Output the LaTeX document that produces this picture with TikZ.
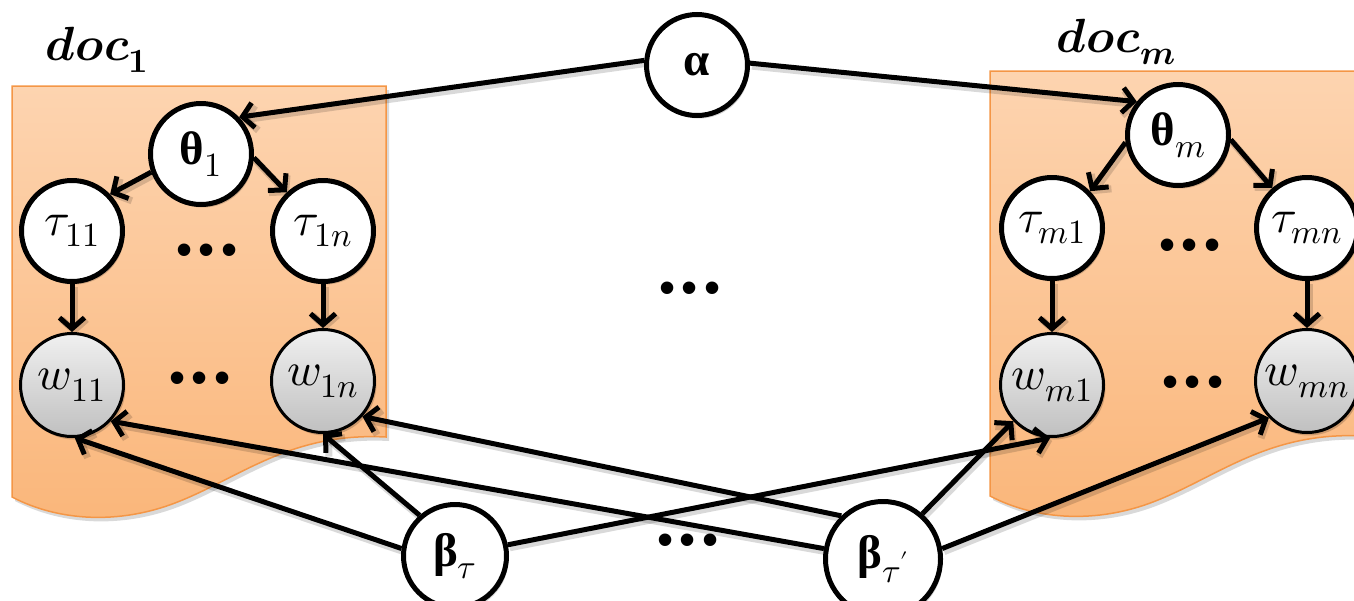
\documentclass[tikz,border=0pt]{standalone}
\usepackage{fontspec}
\usepackage{unicode-math}
\setmathfont{Latin Modern Math}
\newfontfamily\grk{Liberation Serif}
\newfontfamily\dotfont{Liberation Sans}
\usetikzlibrary{arrows.meta,shadows}
\definecolor{doctop}{RGB}{253,212,176}
\definecolor{docbot}{RGB}{250,182,122}
\definecolor{docedge}{RGB}{244,150,70}
\definecolor{obstop}{RGB}{240,240,240}
\definecolor{obsbot}{RGB}{192,192,192}
\newcommand{\bg}[1]{{\grk\bfseries #1}}
\newcommand{\mysub}[1]{_{\mbox{\fontsize{34}{34}\selectfont$#1$}}}
\begin{document}
\begin{tikzpicture}[x=1pt,y=-1pt,
  lbl/.style={font=\fontsize{47}{55}\selectfont},
  shd/.style={drop shadow={shadow xshift=2pt, shadow yshift=-3pt, fill=black, opacity=.18}},
  hid/.style={circle, draw, line width=5pt, fill=white, minimum size=101pt, inner sep=0pt, lbl, shd},
  obs/.style={circle, draw, line width=3pt, top color=obstop, bottom color=obsbot, minimum size=103pt, inner sep=0pt, lbl, shd},
  arr/.style={line width=5pt, -{Straight Barb[length=11pt,width=25pt]},
     preaction={draw=black, opacity=.15, line width=7pt, transform canvas={shift={(2pt,-3pt)}}}},
  docbox/.style={draw=docedge, line width=1.5pt, top color=doctop, bottom color=docbot,
     preaction={fill=black, opacity=.15, transform canvas={shift={(3pt,-4pt)}}}},
  dotrow/.style={font=\dotfont\fontsize{46}{55}\selectfont, inner sep=0pt},
  doclbl/.style={font=\fontsize{48}{55}\selectfont, inner sep=0pt}
]
\useasboundingbox (0,0) rectangle (1354,600);
% document plates
\path[docbox] (12,86) -- (386,86) -- (386,437)
  .. controls (290,432) and (240,478) .. (175,503)
  .. controls (120,524) and (60,522) .. (12,497) -- cycle;
\path[docbox] (990,71) -- (1364,71) -- (1364,436)
  .. controls (1268,431) and (1218,477) .. (1153,502)
  .. controls (1098,523) and (1038,521) .. (990,496) -- cycle;
\node[doclbl] (doc1) at (97,50) {$\symbfit{doc}\mysub{\symbf{1}}$};
\node[doclbl] (docm) at (1116,42) {$\symbfit{doc}\mysub{\symbfit{m}}$};
% nodes
\node[hid] (alpha) at (697,65) {\bg{α}};
\node[hid] (theta1) at (201,154) {\bg{θ}$\mysub{1}$};
\node[hid] (thetam) at (1178,135) {\bg{θ}$\mysub{m}$};
\node[hid] (tau11) at (72,231) {$\tau\mysub{11}$};
\node[hid] (tau1n) at (323,231) {$\tau\mysub{1n}$};
\node[hid] (taum1) at (1052,228) {$\tau\mysub{m1}$};
\node[hid] (taumn) at (1307,228) {$\tau\mysub{mn}$};
\node[obs] (w11) at (72,385) {$w\mysub{11}$};
\node[obs] (w1n) at (323,381) {$w\mysub{1n}$};
\node[obs] (wm1) at (1052,385) {$w\mysub{m1}$};
\node[obs] (wmn) at (1307,381) {$w\mysub{mn}$};
\node[hid, minimum size=103pt] (bt) at (455,556) {\bg{β}$\mysub{\tau}$};
\node[hid, minimum size=115pt] (btp) at (883,559) {\bg{β}$\mysub{\tau'}$};
% dots
\node[dotrow] (d1) at (207,255) {•\kern6pt•\kern6pt•};
\node[dotrow] (d2) at (200,383) {•\kern6pt•\kern6pt•};
\node[dotrow] (d3) at (1190,250) {•\kern6pt•\kern6pt•};
\node[dotrow] (d4) at (1193,387) {•\kern6pt•\kern6pt•};
\node[dotrow] (d5) at (690,293) {•\kern6pt•\kern6pt•};
\node[dotrow] (d6) at (688,545) {•\kern6pt•\kern6pt•};
% edges
\draw[arr] (alpha.175) -- (theta1.44);
\draw[arr] (alpha.2) -- (thetam.141);
\draw[arr] (theta1.200) -- (tau11.44);
\draw[arr] (theta1.-4) -- (tau1n.133);
\draw[arr] (thetam.188) -- (taum1.44);
\draw[arr] (thetam.-5) -- (taumn.131);
\draw[arr] (tau11) -- (w11);
\draw[arr] (tau1n) -- (w1n);
\draw[arr] (taum1) -- (wm1);
\draw[arr] (taumn) -- (wmn);
\draw[arr] (bt.172) -- (w11.-87);
\draw[arr] (bt.131) -- (w1n.-90);
\draw[arr] (bt.12) -- (wm1.-92);
\draw[arr] (btp.170) -- (w11.-43);
\draw[arr] (btp.134) -- (w1n.-42);
\draw[arr] (btp.49) -- (wm1.-137);
\draw[arr] (btp.10) -- (wmn.-136);
\end{tikzpicture}
\end{document}
